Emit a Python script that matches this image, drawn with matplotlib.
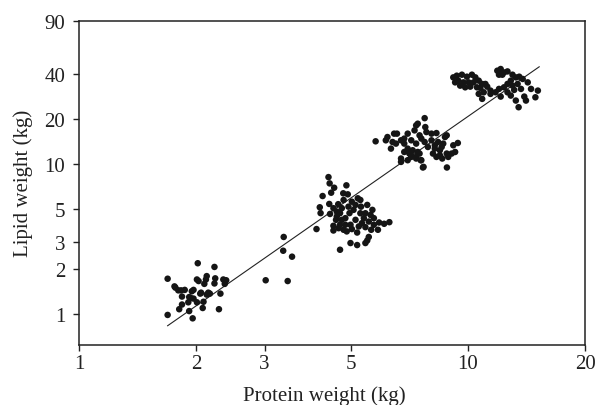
import matplotlib
matplotlib.use("Agg")
import matplotlib.pyplot as plt
from matplotlib.ticker import FixedLocator, FixedFormatter, NullLocator

# ---- data (protein weight, lipid weight in kg) ----
protein_kg = [
    1.69,2.02,2.23,1.77,1.8,1.83,1.87,1.84,1.95,1.97,
    1.92,1.94,1.97,2.01,2.03,2.13,2.12,2.1,2.23,2.24,
    2.35,2.39,2.37,2.05,2.15,2.17,2.13,2.31,2.01,2.09,
    1.91,1.84,1.81,1.92,2.08,2.29,1.69,1.96,1.76,2.06,
    3.02,3.36,3.35,3.53,3.44,
    4.38,4.41,4.53,4.45,4.23,4.87,4.78,4.91,4.79,4.64,
    4.4,4.51,4.16,4.18,4.42,4.08,5.03,5.21,5.29,5.51,
    5.68,5.08,4.96,4.69,4.6,4.74,5.14,5.4,5.56,5.73,
    5.91,6.09,6.28,4.51,4.65,4.79,4.88,5.03,5.24,5.45,
    5.64,5.87,4.51,5.19,5.56,5.51,4.99,5.19,5.45,4.69,
    4.6,4.84,4.99,5.29,5.45,5.62,5.31,5.14,4.93,4.74,
    4.58,4.84,4.69,5.34,5.73,
    6.73,7.15,7.36,7.56,7.69,7.51,
    5.79,6.15,6.21,6.46,6.57,6.34,6.53,6.73,6.86,7,
    7.36,7.43,7.74,7.77,7.29,7.51,7.82,8.06,8.3,8.73,
    8.82,8.64,9.17,9.42,7.15,7.36,7.74,8.06,8.38,7,
    7.21,7.89,8.22,8.47,6.86,7.07,7.43,8.13,8.47,8.82,
    9.08,9.27,6.73,7,7.36,7.59,8.59,8.9,7.66,
    8.83,8.22,7.59,6.86,6.4,7.15,8.3,8.56,
    9.17,9.36,9.65,9.94,10.24,10.45,9.45,9.74,10.04,10.34,
    10.66,10.88,11.09,9.55,9.84,10.14,10.55,10.77,11.21,10.66,
    10.98,10.88,11.43,9.27,
    11.9,12.14,12.38,12.64,13.02,13.28,13.55,12.02,12.26,12.89,
    13.83,14.25,13.42,13.02,12.64,12.38,12.02,11.78,12.64,13.15,
    13.69,14.53,15.13,12.14,12.89,13.28,13.96,14.1,14.91,13.5,
    11.43,
]
lipid_kg = [
    1.71,2.17,2.05,1.49,1.43,1.43,1.44,1.3,1.41,1.44,
    1.29,1.27,1.26,1.69,1.65,1.78,1.69,1.58,1.59,1.72,
    1.69,1.67,1.58,1.36,1.38,1.36,1.34,1.36,1.19,1.2,
    1.19,1.15,1.07,1.04,1.09,1.07,0.98,0.93,1.52,1.38,
    1.67,3.25,2.63,2.4,1.65,
    8.16,7.41,6.93,6.42,6.10,7.19,6.36,6.26,5.74,5.38,
    5.40,5.06,5.13,4.69,4.63,3.67,5.59,5.89,5.74,5.32,
    4.93,4.93,4.69,4.69,4.45,4.23,4.23,4.34,4.12,4.34,
    4.06,3.98,4.08,3.86,3.72,3.63,3.54,3.67,3.82,3.78,
    3.63,3.63,3.59,3.48,3.25,3.08,2.96,2.87,2.96,2.67,
    4.8,4.34,3.92,4.68,4.68,4.56,5.18,5.32,5.18,5.06,
    4.23,3.92,3.92,4.02,3.92,
    10.31,11.42,11.13,10.58,9.55,11.72,
    14.15,14.37,15.11,15.92,15.92,12.65,13.66,14.37,13.66,15.92,
    18.07,18.55,20.2,17.61,16.74,15.51,16.31,15.92,16.06,15.11,
    15.51,13.66,13.31,13.79,14.37,13.66,14,14.37,14,12.65,
    12.33,12.97,12.65,12.33,12.01,11.72,12.01,11.72,11.42,11.72,
    11.72,12.01,10.86,10.58,10.86,10.58,10.86,11.13,9.46,
    9.46,13.31,14.75,14.75,14,11.13,11.13,12.97,
    37.82,38.81,39.41,38.22,39.41,37.82,35.96,35.03,35.03,35.03,
    35.96,34.19,34.19,33.31,32.46,32.8,32.46,32.16,32.8,29.34,
    30.07,27.18,29.34,35.03,
    41.9,43,40.82,41.45,39.41,37.82,38.22,39.41,39.41,35.96,
    36.9,35.03,34.19,33.31,34.19,32.46,31.67,30.07,30.07,31.19,
    31.67,31.67,30.86,28.15,28.59,26.48,28.15,26.48,27.85,23.9,
    30.86,
]
fit_protein = [1.69, 15.25]
fit_lipid = [0.83, 44.5]

x_ticks = [1, 2, 3, 5, 10, 20]
x_tick_labels = ["1", "2", "3", "5", "10", "20"]
y_ticks = [1, 2, 3, 5, 10, 20, 40, 90]
y_tick_labels = ["1", "2", "3", "5", "10", "20", "40", "90"]

plt.rcParams['font.family'] = ['Liberation Serif', 'DejaVu Serif']

fig = plt.figure(figsize=(5.97, 4.06), dpi=100)
ax = fig.add_axes([79/597, 1-345.7/406, (585-79)/597, (345.7-22)/406])

ax.scatter(protein_kg, lipid_kg, s=22, color="#151515", edgecolors="none", zorder=3)
ax.plot(fit_protein, fit_lipid, color="#222222", lw=0.8, zorder=2)

ax.set_xscale("log")
ax.set_yscale("log")
ax.set_xlim(1, 20)
ax.set_ylim(0.62, 90)

ax.xaxis.set_major_locator(FixedLocator(x_ticks))
ax.xaxis.set_major_formatter(FixedFormatter(x_tick_labels))
ax.yaxis.set_major_locator(FixedLocator(y_ticks))
ax.yaxis.set_major_formatter(FixedFormatter(y_tick_labels))
ax.xaxis.set_minor_locator(NullLocator())
ax.yaxis.set_minor_locator(NullLocator())

for s in ax.spines.values():
    s.set_linewidth(1.1)
    s.set_color("#222222")
ax.tick_params(axis="both", direction="out", length=4, width=1, colors="#222222",
               labelsize=15, labelcolor="#222222")
ax.tick_params(axis="x", pad=3)
ax.tick_params(axis="y", pad=6)

ax.set_xlabel("Protein weight (kg)", fontsize=15, color="#222222")
ax.set_ylabel("Lipid weight (kg)", fontsize=15, color="#222222")
ax.xaxis.set_label_coords((324.5-79)/506, (345.7-386)/323.7)
ax.yaxis.set_label_coords((33-79)/506, 0.5)

fig.savefig("out.png", dpi=100)
